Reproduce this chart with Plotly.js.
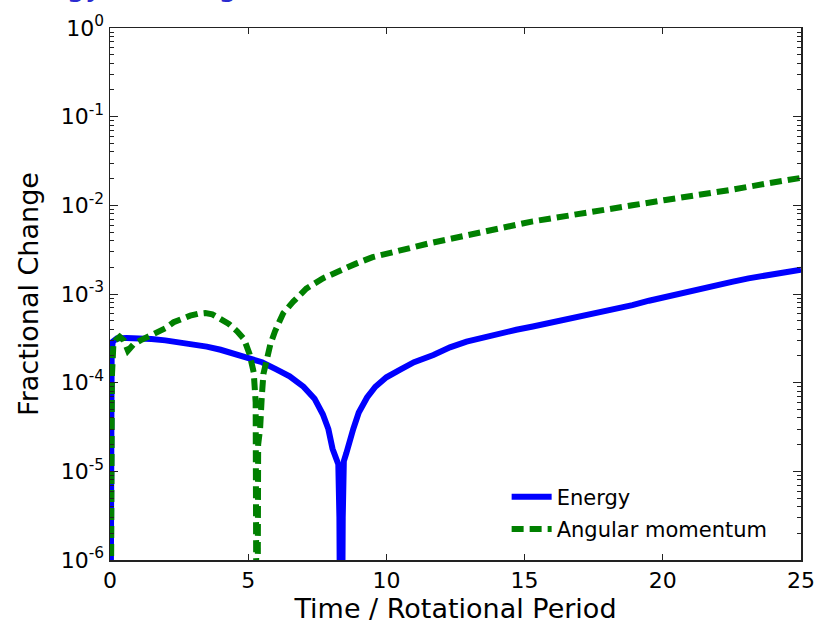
<!DOCTYPE html>
<html>
<head>
<meta charset="utf-8">
<script src="https://cdn.plot.ly/plotly-3.0.1.min.js"></script>
<style>html,body{margin:0;padding:0;background:#fff;} #chart{width:821px;height:626px;}</style>
</head>
<body>
<div id="chart"></div>
<script>
// ---- data ----
const energyTime = [0, 0.03, 0.06, 0.1, 0.25, 0.6, 1.0, 1.5, 2.0, 2.5, 3.0, 3.5, 4.0, 4.5, 5.0, 5.5, 6.0, 6.5, 7.0, 7.4, 7.7, 7.9, 8.05, 8.2, 8.26, 8.3, 8.36, 8.42, 8.46, 8.55, 8.65, 8.8, 9.0, 9.3, 9.6, 10.0, 10.5, 11.0, 11.7, 12.3, 12.9, 13.5, 14.1, 14.7, 15.3, 15.9, 16.5, 17.1, 17.7, 18.3, 18.9, 19.5, 20.1, 20.7, 21.3, 21.9, 22.5, 23.1, 23.7, 24.3, 25.0];
const energyChange = [1e-9, 3e-5, 2.2e-4, 2.9e-4, 3.15e-4, 3.2e-4, 3.2e-4, 3.1e-4, 3.0e-4, 2.85e-4, 2.72e-4, 2.55e-4, 2.35e-4, 2.12e-4, 1.9e-4, 1.7e-4, 1.42e-4, 1.18e-4, 9.0e-5, 6.6e-5, 4.4e-5, 3.0e-5, 1.8e-5, 1.3e-5, 1.2e-5, 3e-6, 1e-9, 3e-6, 1.3e-5, 1.6e-5, 2.2e-5, 3.0e-5, 4.6e-5, 6.8e-5, 9.0e-5, 1.15e-4, 1.4e-4, 1.7e-4, 2.05e-4, 2.5e-4, 2.9e-4, 3.25e-4, 3.6e-4, 3.95e-4, 4.3e-4, 4.7e-4, 5.1e-4, 5.55e-4, 6.05e-4, 6.7e-4, 7.5e-4, 8.4e-4, 9.3e-4, 1.04e-3, 1.15e-3, 1.26e-3, 1.37e-3, 1.5e-3, 1.63e-3, 1.75e-3, 1.88e-3];

const angTime = [0, 0.03, 0.07, 0.12, 0.2, 0.35, 0.5, 0.65, 0.85, 1.1, 1.4, 1.7, 2.0, 2.3, 2.6, 2.9, 3.2, 3.45, 3.7, 4.0, 4.3, 4.6, 4.85, 5.05, 5.2, 5.27, 5.3, 5.32, 5.36, 5.43, 5.49, 5.55, 5.67, 5.8, 5.97, 6.27, 6.63, 7.1, 7.7, 8.3, 8.9, 9.5, 10.1, 10.5, 11.5, 12.9, 14.1, 15.3, 16.5, 17.7, 18.9, 20.1, 21.3, 22.5, 23.7, 25.0];
const angChange = [1e-9, 1e-5, 1.2e-4, 2.6e-4, 3.0e-4, 3.3e-4, 3.0e-4, 2.3e-4, 2.7e-4, 3.0e-4, 3.3e-4, 3.6e-4, 4.1e-4, 4.8e-4, 5.3e-4, 5.7e-4, 6.0e-4, 6.1e-4, 5.9e-4, 5.3e-4, 4.6e-4, 3.8e-4, 3.1e-4, 2.1e-4, 1.3e-4, 6e-5, 1.5e-5, 1e-9, 2e-5, 3e-5, 6.8e-5, 1.25e-4, 1.8e-4, 2.7e-4, 3.8e-4, 6.1e-4, 8.2e-4, 1.15e-3, 1.5e-3, 1.85e-3, 2.2e-3, 2.6e-3, 2.95e-3, 3.1e-3, 3.7e-3, 4.5e-3, 5.5e-3, 6.6e-3, 7.5e-3, 8.5e-3, 1.0e-2, 1.15e-2, 1.3e-2, 1.5e-2, 1.75e-2, 2.04e-2];

const seriesNames = ["Energy", "Angular momentum"];
const xTickVals = [0, 5, 10, 15, 20, 25];
const xTickText = ["0", "5", "10", "15", "20", "25"];
const yTickVals = [1e-6, 1e-5, 1e-4, 1e-3, 1e-2, 1e-1, 1];
const yTickText = ["10<sup>-6</sup>", "10<sup>-5</sup>", "10<sup>-4</sup>", "10<sup>-3</sup>", "10<sup>-2</sup>", "10<sup>-1</sup>", "10<sup>0</sup>"];
const titleText = "Energy and Angular Momentum";

// minor tick positions on the log axis (2..9 x 10^k)
const yMinor = [];
for (let k = -6; k < 0; k++) for (let m = 2; m <= 9; m++) yMinor.push(m * Math.pow(10, k));

const FONT = "DejaVu Sans, sans-serif";

const traces = [
  {x: energyTime, y: energyChange, name: seriesNames[0], type: "scatter", mode: "lines",
   line: {color: "#0000ff", width: 6}, legendgroup: "a"},
  {x: angTime, y: angChange, name: seriesNames[1], type: "scatter", mode: "lines",
   line: {color: "#008000", width: 6, dash: "12px,6px"}, legendgroup: "b"}
];

const layout = {
  width: 821, height: 626,
  margin: {l: 110, r: 20, t: 28, b: 66},
  paper_bgcolor: "#ffffff", plot_bgcolor: "#ffffff",
  font: {family: FONT, color: "#000"},
  showlegend: true,
  legend: {x: 0.574, y: 0.157, xanchor: "left", yanchor: "top", bgcolor: "rgba(0,0,0,0)",
           font: {family: FONT, size: 21, color: "#000"}, itemwidth: 40,
           traceorder: "grouped", tracegroupgap: 2},
  xaxis: {range: [0, 25], tickvals: xTickVals, ticktext: xTickText,
          ticks: "inside", ticklen: 6, tickwidth: 1, tickcolor: "#222",
          showline: true, linecolor: "#222", linewidth: 1.5, mirror: "allticks",
          showgrid: false, zeroline: false,
          tickfont: {family: FONT, size: 22, color: "#000"},
          title: {text: "Time / Rotational Period", font: {family: FONT, size: 27, color: "#000"}, standoff: 6}},
  yaxis: {type: "log", range: [-6, 0], tickvals: yTickVals, ticktext: yTickText,
          ticks: "inside", ticklen: 8, tickwidth: 1, tickcolor: "#222",
          minor: {tickvals: yMinor, ticks: "inside", ticklen: 4, tickwidth: 1, tickcolor: "#222", showgrid: false},
          showline: true, linecolor: "#222", linewidth: 1.5, mirror: "allticks",
          showgrid: false, zeroline: false,
          tickfont: {family: FONT, size: 22, color: "#000"},
          title: {text: "Fractional Change", font: {family: FONT, size: 27, color: "#000"}, standoff: 14}},
  annotations: [{text: titleText, xref: "paper", yref: "paper", x: -0.165, y: 1.0438,
                 xanchor: "left", yanchor: "bottom", showarrow: false,
                 font: {family: FONT, size: 30, color: "#2b2bd0"}}]
};

Plotly.newPlot("chart", traces, layout, {displayModeBar: false, staticPlot: true});
</script>
</body>
</html>
